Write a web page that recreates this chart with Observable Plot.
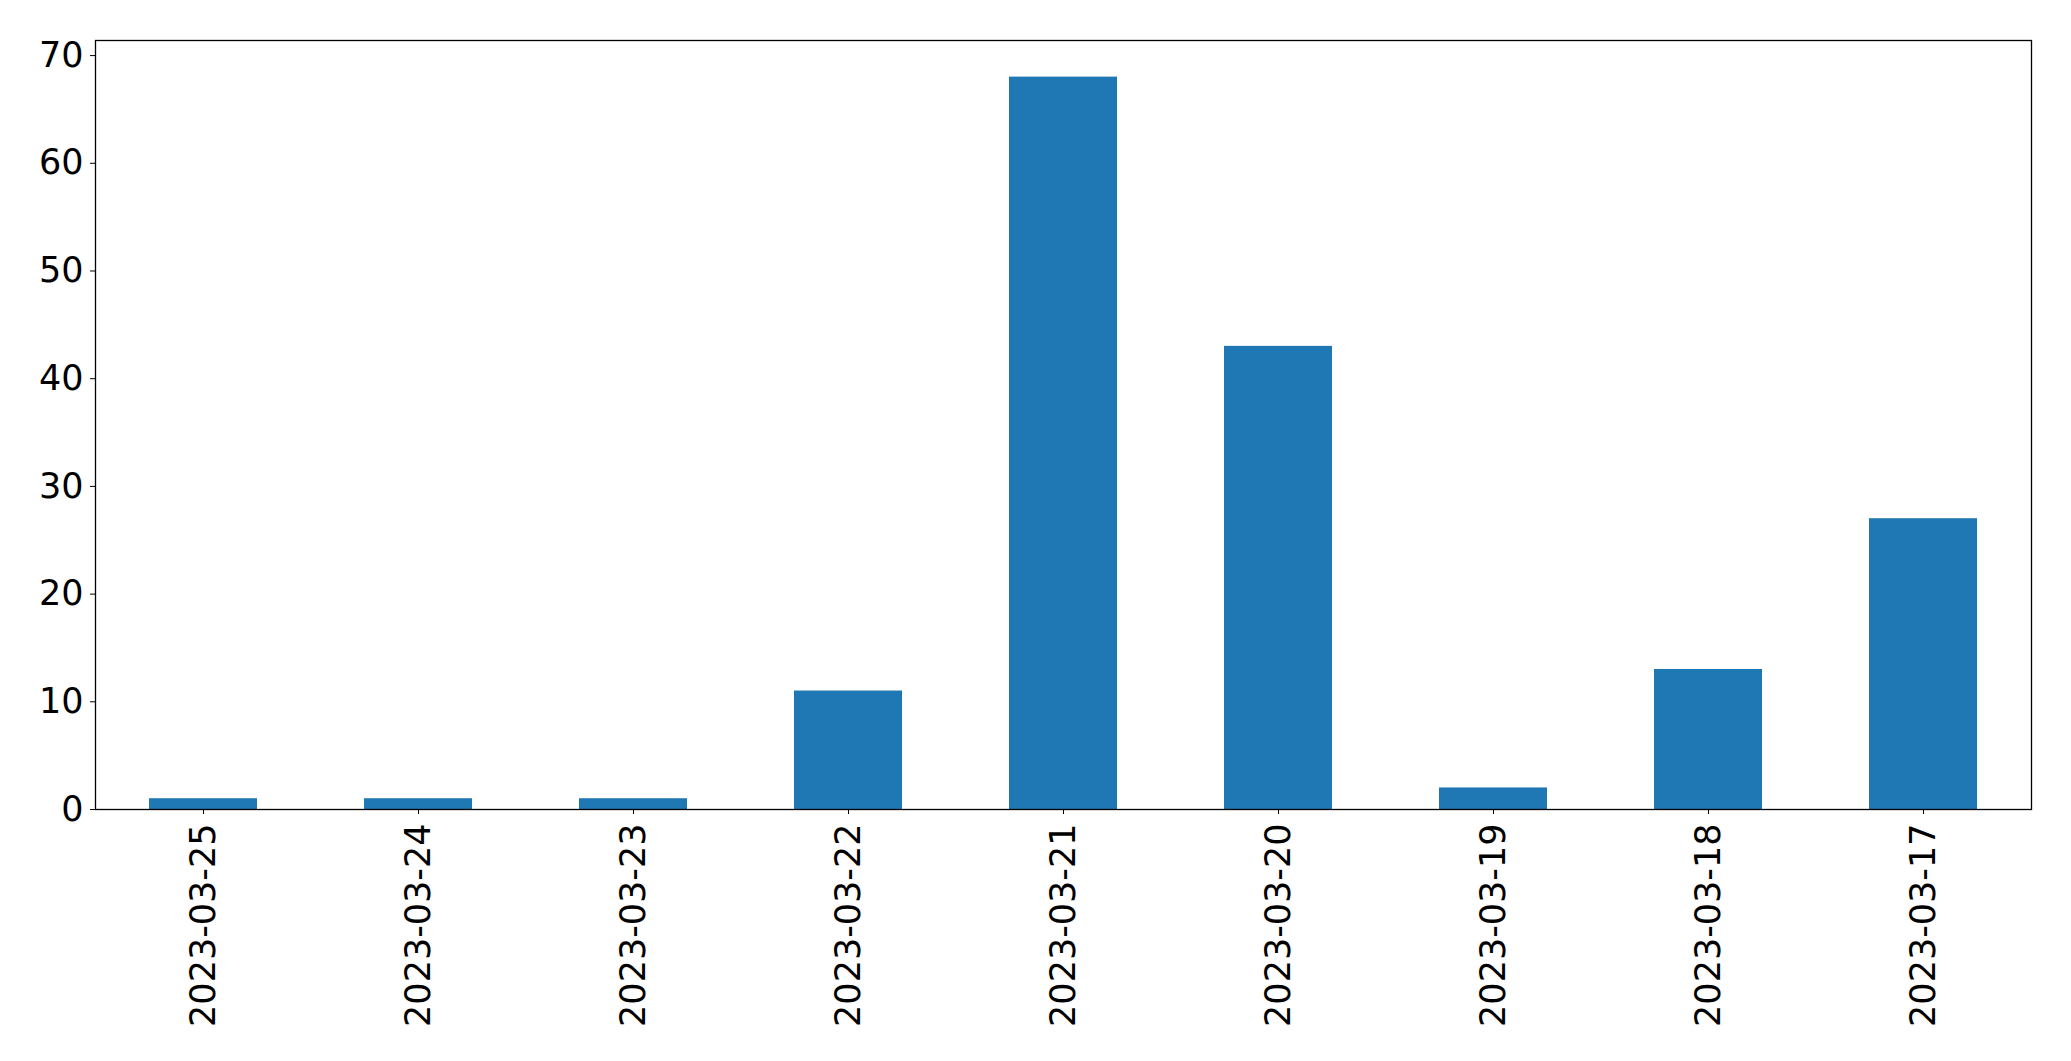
<!DOCTYPE html>
<html>
<head>
<meta charset="utf-8">
<script src="https://cdn.jsdelivr.net/npm/d3@7"></script>
<script src="https://cdn.jsdelivr.net/npm/@observablehq/plot@0.6"></script>
<style>
  html, body { margin: 0; padding: 0; background: #fff; }
  #chart svg { display: block; }
</style>
</head>
<body>
<div id="chart"></div>
<script>
const dates = ["2023-03-25", "2023-03-24", "2023-03-23", "2023-03-22", "2023-03-21", "2023-03-20", "2023-03-19", "2023-03-18", "2023-03-17"];
const counts = [1, 1, 1, 11, 68, 43, 2, 13, 27];
const yTicks = [0, 10, 20, 30, 40, 50, 60, 70];

const data = dates.map((d, i) => ({date: d, count: counts[i]}));

const chart = Plot.plot({
  width: 2071,
  height: 1061,
  marginLeft: 95,
  marginRight: 40,
  marginTop: 40,
  marginBottom: 252,
  style: {fontFamily: "DejaVu Sans", color: "black", background: "white"},
  x: {type: "band", domain: dates, paddingInner: 0.5, paddingOuter: 0.25, label: null},
  y: {domain: [0, 71.4], label: null},
  marks: [
    Plot.barY(data, {x: "date", y: "count", fill: "#1f77b4"}),
    Plot.frame({stroke: "black", strokeWidth: 1.3}),
    Plot.axisY({ticks: yTicks, tickSize: 5, tickPadding: 7, fontSize: 35, label: null, tickFormat: d => String(d)}),
    Plot.axisX({tickSize: 5, tickPadding: 9, tickRotate: -90, fontSize: 35, label: null})
  ]
});
document.getElementById("chart").appendChild(chart);
</script>
</body>
</html>
